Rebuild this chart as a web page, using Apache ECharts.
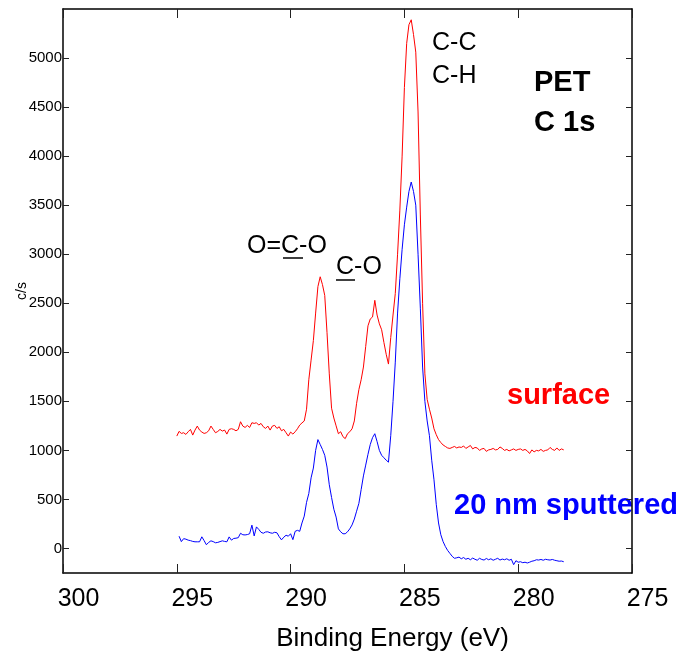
<!DOCTYPE html>
<html>
<head>
<meta charset="utf-8">
<script src="https://cdn.jsdelivr.net/npm/echarts@6/dist/echarts.min.js"></script>
<style>
  html, body { margin: 0; padding: 0; background: #fff; }
  #chart { width: 689px; height: 654px; }
</style>
</head>
<body>
<div id="chart"></div>
<script>
// XPS C 1s spectra of PET, 0.1 eV channels from 295.0 eV down to 278.0 eV
const energyStart = 295.0;
const energyStep = 0.1;

// surface (as received)
const surfaceCounts = [
  1146,1194,1173,1180,1163,1190,1214,1156,1207,1248,
  1207,1187,1173,1180,1200,1248,1214,1180,1193,1214,
  1197,1207,1166,1214,1221,1214,1200,1214,1292,1248,
  1234,1255,1234,1282,1275,1282,1258,1275,1241,1224,
  1248,1207,1248,1255,1224,1241,1200,1214,1180,1146,
  1187,1166,1190,1220,1258,1280,1300,1420,1720,1920,
  2120,2400,2670,2770,2690,2580,2200,1780,1430,1330,
  1250,1170,1190,1140,1120,1170,1190,1220,1300,1480,
  1620,1720,1850,2060,2270,2340,2360,2530,2380,2290,
  2230,2100,1980,1880,2150,2380,2600,3000,3450,4000,
  4700,5150,5340,5390,5240,5060,4450,3400,2500,1780,
  1520,1420,1330,1220,1160,1110,1080,1055,1040,1025,
  1020,1030,1040,1025,1035,1030,1045,1020,1035,1050,
  1015,1030,1025,1000,1015,1020,990,1005,1010,1020,
  1005,1010,1035,1020,1000,1010,995,1005,1015,1000,
  1010,1015,1000,1010,995,968,1005,985,1000,995,
  1010,990,1000,1005,1030,1010,1000,1025,1000,1015,1005
];

// after 20 nm Ar sputtering
const sputteredCounts = [
  null,125,70,100,95,85,80,72,68,68,
  68,119,80,38,62,78,70,58,62,70,
  78,72,68,118,85,102,105,110,155,140,
  138,142,150,238,128,220,195,165,155,168,
  170,160,155,165,160,120,88,115,135,125,
  150,90,175,185,175,260,330,470,560,720,
  820,1000,1110,1060,1010,950,830,650,520,400,
  320,200,170,150,150,170,200,240,300,380,
  460,600,740,850,960,1060,1130,1170,1090,1000,
  950,925,900,880,1150,1500,1900,2400,2750,3050,
  3300,3480,3640,3736,3640,3500,3000,2450,1850,1500,
  1300,1150,900,700,450,260,140,70,20,-20,
  -50,-80,-100,-95,-88,-105,-92,-110,-100,-115,
  -98,-110,-120,-100,-112,-118,-102,-115,-105,-120,
  -110,-100,-118,-108,-115,-105,-120,-110,-165,-125,
  -140,-135,-145,-140,-148,-140,-130,-125,-115,-118,
  -112,-120,-110,-115,-118,-112,-120,-125,-130,-128,-135
];

const yTickValues = [0, 500, 1000, 1500, 2000, 2500, 3000, 3500, 4000, 4500, 5000];

const FONT = '"Liberation Sans", Arial, Helvetica, sans-serif';

function toPairs(counts) {
  return counts.map((v, i) => [+(energyStart - energyStep * i).toFixed(1), v]);
}

const chart = echarts.init(document.getElementById('chart'), null, { renderer: 'canvas' });

const frameLine = { show: true, onZero: false, lineStyle: { color: '#000', width: 1.5 } };
const tickStyle = { color: '#222', width: 1 };

chart.setOption({
  animation: false,
  backgroundColor: '#fff',
  grid: { left: 63, right: 57, top: 9, bottom: 81, containLabel: false, outerBoundsMode: 'none' },
  xAxis: [
    {
      type: 'value', position: 'bottom', inverse: true,
      min: 275, max: 300, interval: 5,
      axisLine: frameLine,
      axisTick: { show: true, inside: true, length: 9, lineStyle: tickStyle },
      splitLine: { show: false },
      axisLabel: {
        show: true, margin: 14, color: '#000', fontSize: 25, fontFamily: FONT,
        padding: [0, 0, 0, 31], formatter: v => String(v)
      },
      name: 'Binding Energy (eV)',
      nameLocation: 'middle', nameGap: 53, nameMoveOverlap: false,
      nameTextStyle: { color: '#000', fontSize: 26, fontFamily: FONT, padding: [0, 0, 0, 90] }
    },
    {
      type: 'value', position: 'top', inverse: true,
      min: 275, max: 300, interval: 5,
      axisLine: frameLine,
      axisTick: { show: true, inside: true, length: 9, lineStyle: tickStyle },
      axisLabel: { show: false },
      splitLine: { show: false }
    }
  ],
  yAxis: [
    {
      type: 'value', position: 'left',
      min: -250, max: 5500,
      axisLine: frameLine,
      axisTick: { show: true, inside: true, length: 6, customValues: yTickValues, lineStyle: tickStyle },
      axisLabel: {
        show: true, margin: 1, color: '#000', fontSize: 15, fontFamily: FONT,
        customValues: yTickValues, formatter: v => String(v)
      },
      splitLine: { show: false },
      name: 'c/s', nameLocation: 'middle', nameRotate: 90, nameGap: 34, nameMoveOverlap: false,
      nameTextStyle: { color: '#000', fontSize: 14, fontFamily: FONT }
    },
    {
      type: 'value', position: 'right',
      min: -250, max: 5500,
      axisLine: frameLine,
      axisTick: { show: true, inside: true, length: 6, customValues: yTickValues, lineStyle: tickStyle },
      axisLabel: { show: false },
      splitLine: { show: false }
    }
  ],
  series: [
    {
      name: 'surface', type: 'line', xAxisIndex: 0, yAxisIndex: 0,
      data: toPairs(surfaceCounts), showSymbol: false, connectNulls: false,
      lineStyle: { color: '#ff0000', width: 1 }, itemStyle: { color: '#ff0000' }
    },
    {
      name: '20 nm sputtered', type: 'line', xAxisIndex: 0, yAxisIndex: 0,
      data: toPairs(sputteredCounts), showSymbol: false, connectNulls: false,
      lineStyle: { color: '#0000ff', width: 1 }, itemStyle: { color: '#0000ff' }
    }
  ],
  graphic: [
    // peak assignments
    { type: 'text', x: 247, y: 246, style: { text: 'O=C-O', fill: '#000', font: '25px ' + FONT, verticalAlign: 'middle', align: 'left' } },
    { type: 'line', shape: { x1: 283, y1: 258, x2: 303, y2: 258 }, style: { stroke: '#000', lineWidth: 1.5 } },
    { type: 'text', x: 336, y: 267.5, style: { text: 'C-O', fill: '#000', font: '25px ' + FONT, verticalAlign: 'middle', align: 'left' } },
    { type: 'line', shape: { x1: 336, y1: 280, x2: 355, y2: 280 }, style: { stroke: '#000', lineWidth: 1.5 } },
    { type: 'text', x: 432, y: 43, style: { text: 'C-C', fill: '#000', font: '25px ' + FONT, verticalAlign: 'middle', align: 'left' } },
    { type: 'text', x: 432, y: 76.5, style: { text: 'C-H', fill: '#000', font: '25px ' + FONT, verticalAlign: 'middle', align: 'left' } },
    // sample / region
    { type: 'text', x: 534, y: 82.5, style: { text: 'PET', fill: '#000', font: 'bold 29px ' + FONT, verticalAlign: 'middle', align: 'left' } },
    { type: 'text', x: 534, y: 123, style: { text: 'C 1s', fill: '#000', font: 'bold 29px ' + FONT, verticalAlign: 'middle', align: 'left' } },
    // series labels
    { type: 'text', x: 507, y: 396, style: { text: 'surface', fill: '#ff0000', font: 'bold 29px ' + FONT, verticalAlign: 'middle', align: 'left' } },
    { type: 'text', x: 454, y: 506, style: { text: '20 nm sputtered', fill: '#0000ff', font: 'bold 29px ' + FONT, verticalAlign: 'middle', align: 'left' } }
  ]
});
</script>
</body>
</html>
